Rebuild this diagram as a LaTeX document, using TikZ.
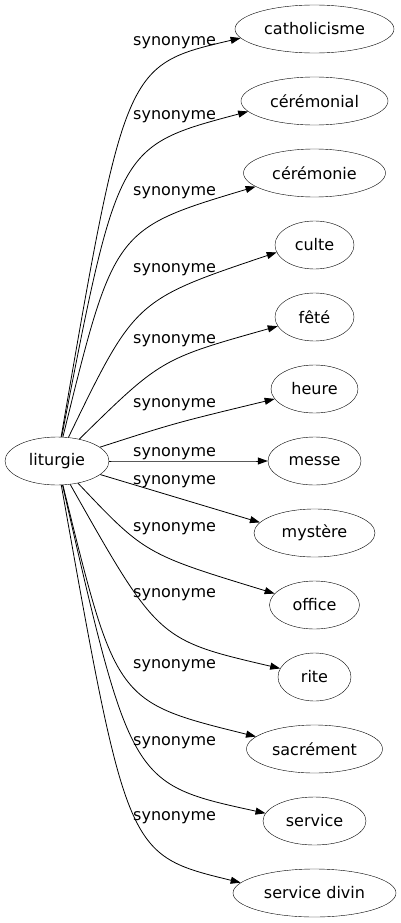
\documentclass[tikz,border=0pt]{standalone}
\usepackage{fontspec}
\setmainfont{DejaVu Sans}
\usetikzlibrary{arrows.meta,shapes.geometric}

\begin{document}
\begin{tikzpicture}[x=1pt,y=-1pt,
   mot/.style={draw,ellipse,inner sep=0pt,minimum height=48pt,
               font=\fontsize{16}{19}\selectfont},
   syn/.style={-{Triangle[length=10pt,width=7pt]},line width=0.8pt},
   etiq/.style={anchor=base west,inner sep=0pt,font=\fontsize{16}{19}\selectfont}]
   \useasboundingbox (0,0) rectangle (401,923);
   \node[mot,minimum width=104pt] (liturgie) at (57,461) {liturgie};
   % nom/texte/largeur/controle x/controle y/angle d'arrivee/ligne de base
   \foreach \n/\t/\w/\cx/\cy/\a/\ly [count=\i from 0] in {
      catholicisme/catholicisme/159/125/65/187/46,
      ceremonial/cérémonial/147/118/146/189/120,
      ceremonie/cérémonie/142/114/229/193/195,
      culte/culte/79/135/300/191/272,
      fete/fêté/79/161/359/194/343,
      heure/heure/87/175/423/194/407,
      messe/messe/93/190/461/180/456,
      mystere/mystère/121/175/498/169/484,
      office/office/90/145/554/164/531,
      rite/rite/73/158/640/166/597,
      sacrement/sacrément/136/116/702/168/668,
      service/service/103/131/784/171/745,
      servicedivin/service divin/163/127/855/172/820}
   {
      \node[mot,minimum width=\w pt] (\n) at (314.5,{29+72*\i}) {\t};
      \draw[syn] (liturgie) .. controls (\cx,\cy) and (\cx,\cy) .. (\n.\a);
      \node[etiq] (syn\n) at (133,\ly) {synonyme};
   }
\end{tikzpicture}
\end{document}
